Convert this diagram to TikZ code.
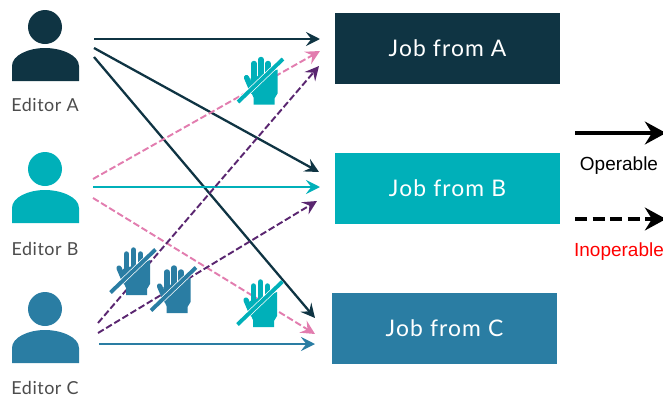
\documentclass[tikz,border=0pt]{standalone}
\usepackage{xcolor}
\usepackage{fontspec}
\usepackage{tikz}
\usetikzlibrary{arrows.meta}
\setmainfont{Lato}[LetterSpace=3]
\newfontfamily\jobfont[LetterSpace=5]{Lato}
\newfontfamily\legendfont{Liberation Sans}
\definecolor{editorAcol}{RGB}{15,52,67}
\definecolor{editorBcol}{RGB}{0,176,185}
\definecolor{editorCcol}{RGB}{42,125,163}
\definecolor{pinkcol}{RGB}{226,125,175}
\definecolor{purplecol}{RGB}{90,38,112}

\begin{document}
\begin{tikzpicture}[
    x=0.02cm, y=-0.02cm,
    job/.style={rectangle, minimum width=225*0.02cm, minimum height=71*0.02cm, inner sep=0pt, text=white, font=\jobfont\fontsize{13}{15}\selectfont},
    editor/.style={text=black!70, inner sep=0pt, font=\fontsize{10.2}{12}\selectfont},
    legend/.style={inner sep=0pt, font=\legendfont\fontsize{10.8}{13}\selectfont},
    arrow/.style={-{Stealth[length=8pt, width=8pt, inset=3pt]}, line width=1.3pt},
    dasharrow/.style={arrow, line width=1.1pt, dash pattern=on 3.8pt off 1.6pt},
    keyarrow/.style={-{Stealth[length=12pt, width=13pt, inset=4pt]}, line width=2.1pt},
    person/.pic={
        \fill[#1] (0,0) circle [radius=17];
        \fill[#1] (-33,54) -- (-33,39) .. controls (-33,28) and (-16,21) .. (0,21) .. controls (16,21) and (34,28) .. (34,39) -- (34,54) -- cycle;
    },
    hand/.pic={
        \draw[#1, line width=3pt, line cap=round] (-14,-3) -- (-8,11);
        \draw[#1, line width=3.1pt, line cap=round] (-6.5,0) -- (-6.5,-17);
        \draw[#1, line width=3.1pt, line cap=round] (0.5,0) -- (0.5,-21);
        \draw[#1, line width=3.1pt, line cap=round] (7.5,0) -- (7.5,-17);
        \fill[#1] (-10,-2) -- (17,-11) -- (17,13) -- (14,18) -- (14,24) -- (-7,24) -- (-7,17) -- (-11,8) -- cycle;
        \draw[white, line width=3pt] (-22.5,21.5) -- (22.5,-21.5);
        \draw[#1, line width=2.2pt] (-22.5,21.5) -- (22.5,-21.5);
    }
]
    \clip (0,0) rectangle (663,396);

    % Editors
    \pic at (45,27) {person=editorAcol};
    \pic at (45,169) {person=editorBcol};
    \pic at (45,309) {person=editorCcol};
    \node[editor] (editorA) at (45,105) {Editor A};
    \node[editor] (editorB) at (45,249) {Editor B};
    \node[editor] (editorC) at (45,388) {Editor C};

    % Jobs
    \node[job, fill=editorAcol] (jobA) at (447.5,48.5) {Job from A};
    \node[job, fill=editorBcol] (jobB) at (447.5,188.5) {Job from B};
    \node[job, fill=editorCcol] (jobC) at (444.5,328.5) {Job from C};

    % Arrow ends
    \coordinate (outA1) at (94,39);
    \coordinate (outA2) at (94,48);
    \coordinate (outA3) at (94,57);
    \coordinate (outB1) at (93,179);
    \coordinate (outB2) at (93,187);
    \coordinate (outB3) at (93,198);
    \coordinate (outC1) at (98,323);
    \coordinate (outC2) at (98,333);
    \coordinate (outC3) at (99,344);
    \coordinate (inA1) at (320,39);
    \coordinate (inA2) at (320,51);
    \coordinate (inA3) at (319,66);
    \coordinate (inB1) at (319,172);
    \coordinate (inB2) at (320,187);
    \coordinate (inB3) at (317,201);
    \coordinate (inC1) at (315,318);
    \coordinate (inC2) at (315,334);
    \coordinate (inC3) at (315,344);

    % Operable
    \draw[arrow, editorAcol] (outA1) -- (inA1);
    \draw[arrow, editorAcol] (outA2) -- (inB1);
    \draw[arrow, editorAcol] (outA3) -- (inC1);
    \draw[arrow, editorBcol] (outB2) -- (inB2);
    \draw[arrow, editorCcol] (outC3) -- (inC3);

    % Inoperable
    \draw[dasharrow, pinkcol] (outB1) -- (inA2);
    \draw[dasharrow, pinkcol] (outB3) -- (inC2);
    \draw[dasharrow, purplecol] (outC1) -- (inA3);
    \draw[dasharrow, purplecol] (outC2) -- (inB3);

    % Hands
    \pic at (260.5,80.5) {hand=editorBcol};
    \pic at (133,271) {hand=editorCcol};
    \pic at (173.5,289) {hand=editorCcol};
    \pic at (260,303) {hand=editorBcol};

    % Legend
    \coordinate (keyS1) at (575,133);
    \coordinate (keyE1) at (666,133);
    \coordinate (keyS2) at (575,219);
    \coordinate (keyE2) at (666,219);
    \draw[keyarrow] (keyS1) -- (keyE1);
    \draw[keyarrow, dash pattern=on 7pt off 3pt] (keyS2) -- (keyE2);
    \node[legend] (operable) at (619,166) {Operable};
    \node[legend, text=red] (inoperable) at (619,252) {Inoperable};
\end{tikzpicture}
\end{document}
